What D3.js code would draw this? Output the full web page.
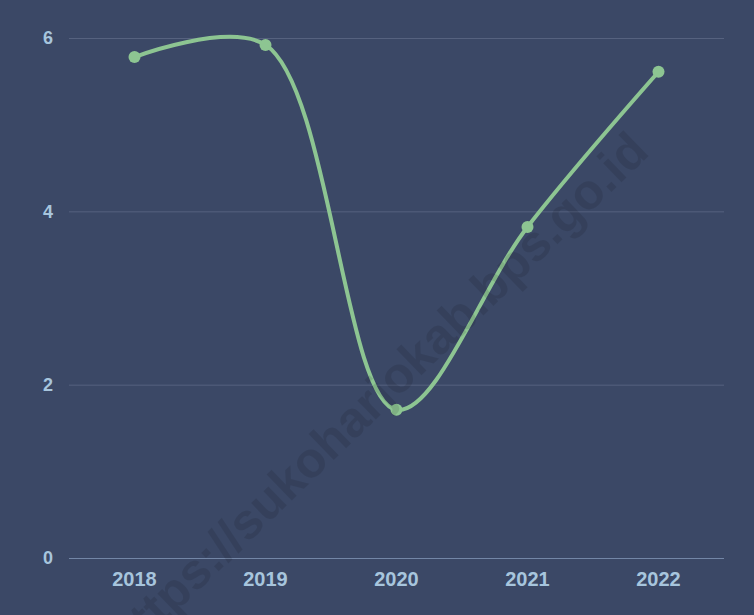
<!DOCTYPE html>
<html><head><meta charset="utf-8">
<script src="https://cdn.jsdelivr.net/npm/d3@7"></script>
<style>html,body{margin:0;padding:0;background:#3b4866;}svg{display:block;}</style>
</head><body>
<script>
const years = ["2018","2019","2020","2021","2022"];
const values = [5.78, 5.92, 1.71, 3.82, 5.61];
const yTicks = [0, 2, 4, 6];
const watermark = "https://sukoharjokab.bps.go.id";

const W = 754, H = 615;
const svg = d3.select("body").append("svg").attr("width", W).attr("height", H);
svg.append("rect").attr("width", W).attr("height", H).attr("fill", "#3b4866");

const x = d3.scaleBand().domain(years).range([69, 724]).padding(0);
const y = d3.scaleLinear().domain([0, 6]).range([558, 38]);
const cx = d => x(d) + x.bandwidth() / 2;

// grid
svg.append("g").selectAll("line").data(yTicks.filter(t => t !== 0)).join("line")
  .attr("x1", 69).attr("x2", 724)
  .attr("y1", d => y(d) + 0.5).attr("y2", d => y(d) + 0.5)
  .attr("stroke", "#56627f").attr("stroke-width", 1);
svg.append("line").attr("x1", 69).attr("x2", 724)
  .attr("y1", y(0) + 0.5).attr("y2", y(0) + 0.5)
  .attr("stroke", "#7386a6").attr("stroke-width", 1);

// y labels
svg.append("g").selectAll("text").data(yTicks).join("text")
  .attr("x", 53).attr("y", d => y(d)).attr("dy", "0.35em")
  .attr("text-anchor", "end")
  .attr("font-family", "Liberation Sans, Arial, sans-serif")
  .attr("font-weight", "bold").attr("font-size", 18)
  .attr("fill", "#a7c5dd").text(d => d);

// x labels
svg.append("g").selectAll("text").data(years).join("text")
  .attr("x", d => cx(d)).attr("y", 579).attr("dy", "0.35em")
  .attr("text-anchor", "middle")
  .attr("font-family", "Liberation Sans, Arial, sans-serif")
  .attr("font-weight", "bold").attr("font-size", 20)
  .attr("fill", "#a7c5dd").text(d => d);

// line
const data = years.map((d, i) => ({year: d, value: values[i]}));
const line = d3.line().x(d => cx(d.year)).y(d => y(d.value)).curve(d3.curveCatmullRom.alpha(0.5));
svg.append("path").datum(data).attr("d", line)
  .attr("fill", "none").attr("stroke", "#8dc592").attr("stroke-width", 4)
  .attr("stroke-linecap", "round");
svg.append("g").selectAll("circle").data(data).join("circle")
  .attr("cx", d => cx(d.year)).attr("cy", d => y(d.value)).attr("r", 6)
  .attr("fill", "#8dc592");

// watermark
svg.append("text")
  .attr("transform", "translate(377,394) rotate(-44)")
  .attr("text-anchor", "middle").attr("dy", "0.35em")
  .attr("font-family", "Liberation Sans, Arial, sans-serif")
  .attr("font-weight", "bold").attr("font-size", 50)
  .attr("fill", "#000").attr("fill-opacity", 0.1)
  .text(watermark);
</script>
</body></html>
